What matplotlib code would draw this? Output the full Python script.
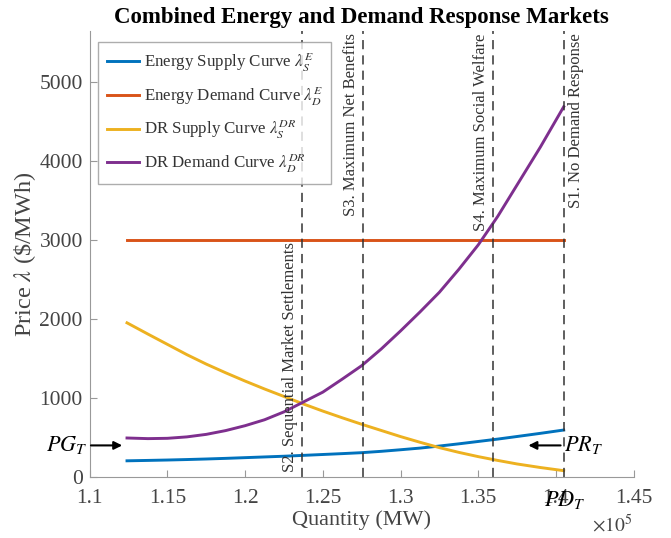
import matplotlib
matplotlib.use("Agg")
import matplotlib.pyplot as plt
from matplotlib.ticker import FuncFormatter

plt.rcParams['font.family'] = ['Liberation Serif', 'DejaVu Serif']
plt.rcParams['mathtext.fontset'] = 'stix'

# quantities in MW
quantity = [112400, 113750, 115000, 116250, 117500, 118750, 120000, 121250,
            122500, 123750, 125000, 126250, 127500, 128750, 130000, 131250,
            132500, 133750, 135000, 136250, 137500, 139000, 140500]
supply_e = [205, 210, 215, 221, 228, 236, 245, 254, 263, 274, 285, 296, 308,
            325, 345, 366, 392, 420, 450, 480, 513, 553, 595]
demand_e = [3000] * len(quantity)
supply_dr = [1953, 1810, 1680, 1550, 1430, 1320, 1215, 1115, 1020, 925, 835,
             750, 668, 590, 512, 440, 372, 312, 258, 210, 165, 120, 80]
demand_dr = [494, 486, 490, 508, 540, 588, 650, 725, 825, 950, 1075, 1240,
             1410, 1620, 1850, 2090, 2340, 2630, 2940, 3300, 3700, 4180, 4690]

series_labels = [r'Energy Supply Curve $\lambda_S^E$',
                 r'Energy Demand Curve $\lambda_D^E$',
                 r'DR Supply Curve $\lambda_S^{DR}$',
                 r'DR Demand Curve $\lambda_D^{DR}$']
colors = ['#0072BD', '#D95319', '#EDB120', '#7E2F8E']

scenario_q = [123640, 127600, 135930, 140500]
scenario_labels = ['S2. Sequential Market Settlements', 'S3. Maximum Net Benefits',
                   'S4. Maximum Social Welfare', 'S1. No Demand Response']

x_ticks = [110000, 115000, 120000, 125000, 130000, 135000, 140000, 145000]
y_ticks = [0, 1000, 2000, 3000, 4000, 5000]

fig = plt.figure(figsize=(6.71, 5.38), dpi=100)
ax = fig.add_axes([0.1337, 0.1134, 0.8106, 0.829])

for ys, lab, c in zip([supply_e, demand_e, supply_dr, demand_dr], series_labels, colors):
    ax.plot(quantity, ys, color=c, lw=2.1, label=lab)

for q in scenario_q:
    ax.axvline(q, color='#333333', lw=1.1, ls=(0, (6, 4)))

ax.set_xlim(110000, 145000)
ax.set_ylim(0, 5650)
ax.set_xticks(x_ticks)
ax.set_yticks(y_ticks)
ax.xaxis.set_major_formatter(FuncFormatter(lambda v, p: f'{v/1e5:g}'))

for s in ['top', 'right']:
    ax.spines[s].set_visible(False)
for s in ['left', 'bottom']:
    ax.spines[s].set_color('#999999')
ax.tick_params(direction='in', length=5, colors='#999999', labelcolor='#444444',
               labelsize=15.5)
ax.tick_params(axis='x', pad=9)
ax.tick_params(axis='y', pad=5)

ax.set_title('Combined Energy and Demand Response Markets', fontsize=16.5,
             fontweight='bold', pad=6)
ax.set_xlabel('Quantity (MW)', fontsize=16, color='#444444', labelpad=1)
ax.set_ylabel(r'Price $\lambda$ (\$/MWh)', fontsize=17.5, color='#444444', labelpad=1)
fig.text(0.943, 0.004, r'$\times10^5$', fontsize=14, color='#444444',
         ha='right', va='bottom')

# scenario labels
ax.text(scenario_q[0] - 250, 60, scenario_labels[0], rotation=90, ha='right',
        va='bottom', fontsize=12, color='#333333')
ax.text(scenario_q[1] - 250, 5620, scenario_labels[1], rotation=90, ha='right',
        va='top', fontsize=12, color='#333333')
ax.text(scenario_q[2] - 250, 5620, scenario_labels[2], rotation=90, ha='right',
        va='top', fontsize=12, color='#333333')
ax.text(scenario_q[3] + 250, 5620, scenario_labels[3], rotation=90, ha='left',
        va='top', fontsize=12, color='#333333')

# PG / PR / PD markers
ax.annotate('', xy=(112270, 400), xytext=(109900, 400),
            arrowprops=dict(arrowstyle='-|>', color='black', lw=1.5,
                            mutation_scale=12), annotation_clip=False)
ax.text(109850, 400, r'$PG_T$', ha='right', va='center', fontsize=16,
        clip_on=False)
ax.annotate('', xy=(138050, 400), xytext=(140480, 400),
            arrowprops=dict(arrowstyle='-|>', color='black', lw=1.5,
                            mutation_scale=12), annotation_clip=False)
ax.text(140500, 400, r'$PR_T$', ha='left', va='center', fontsize=16,
        clip_on=False)
ax.text(140550, -150, r'$PD_T$', ha='center', va='top', fontsize=16,
        clip_on=False)

leg = ax.legend(loc='upper left', bbox_to_anchor=(0.0, 0.995), fontsize=12.2,
                frameon=True, fancybox=False, edgecolor='#999999',
                handlelength=1.9, labelspacing=0.6, borderpad=0.5,
                handletextpad=0.3)
leg.get_frame().set_linewidth(1.0)
for t in leg.get_texts():
    t.set_color('#333333')

fig.savefig('out.png', dpi=100)
